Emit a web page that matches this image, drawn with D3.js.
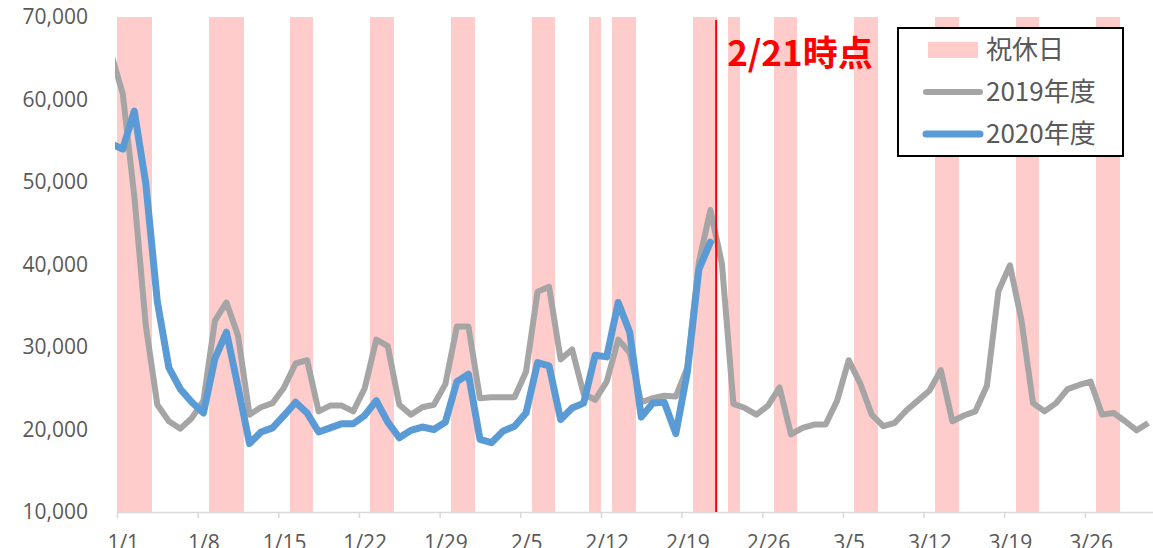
<!DOCTYPE html>
<html>
<head>
<meta charset="utf-8">
<script src="https://cdn.jsdelivr.net/npm/d3@7"></script>
<style>
  body { margin: 0; background: #fff; }
  svg { display: block; font-family: "Noto Sans CJK JP", "Open Sans", sans-serif; }
</style>
</head>
<body>
<svg width="1153" height="548"></svg>
<script>
// daily values, first entry is 12/31 of the previous year
const firstDay = [2020, 11, 31];
const series2019 = [
  65500, 60700, 48300, 32600, 23000, 21000, 20100, 21400, 23500, 33200,
  35400, 31400, 21800, 22700, 23200, 25100, 28000, 28400, 22200, 22900,
  22900, 22200, 25000, 30900, 30100, 23000, 21800, 22700, 23000, 25500,
  32500, 32500, 23800, 23900, 23900, 23900, 27000, 36700, 37300, 28500,
  29700, 24300, 23600, 25800, 30900, 29300, 23300, 23800, 24100, 24000,
  27500, 40300, 46600, 40100, 23100, 22600, 21800, 22900, 25100, 19400,
  20200, 20600, 20600, 23500, 28400, 25600, 21800, 20400, 20800, 22300,
  23500, 24700, 27200, 21000, 21700, 22200, 25300, 36800, 39900, 33200,
  23200, 22200, 23200, 24900, 25400, 25800, 21800, 22000, 21000, 19900,
  20800
];
const series2020 = [
  54600, 54000, 58600, 49800, 35500, 27500, 24900, 23300, 22000, 28600,
  31800, 25200, 18300, 19700, 20200, 21700, 23300, 22000, 19700, 20200,
  20700, 20700, 21700, 23500, 20900, 19000, 19900, 20300, 20000, 20900,
  25800, 26700, 18800, 18400, 19800, 20400, 22000, 28100, 27700, 21200,
  22600, 23200, 29000, 28800, 35400, 31800, 21500, 23200, 23300, 19500,
  27000, 39400, 42700
];
const holidays = [
  "1/1", "1/2", "1/3", "1/9", "1/10", "1/11", "1/16", "1/17", "1/23", "1/24",
  "1/30", "1/31", "2/6", "2/7", "2/11", "2/13", "2/14", "2/20", "2/21", "2/23",
  "2/27", "2/28", "3/6", "3/7", "3/13", "3/14", "3/20", "3/21", "3/27", "3/28"
];
const tickLabels = ["1/1", "1/8", "1/15", "1/22", "1/29", "2/5", "2/12", "2/19", "2/26", "3/5", "3/12", "3/19", "3/26"];
const yTicks = [10000, 20000, 30000, 40000, 50000, 60000, 70000];
const markDate = "2/21";
const markLabel = "2/21時点";
const legendLabels = ["祝休日", "2019年度", "2020年度"];

const colors = {holiday: "#ffcccc", y2019: "#a5a5a5", y2020: "#5b9bd5", mark: "#ff0000", text: "#595959"};

const svg = d3.select("svg");
const year = 2021;
const toDate = s => { const [m, d] = s.split("/").map(Number); return new Date(Date.UTC(year, m - 1, d)); };

const x = d3.scaleUtc()
    .domain([new Date(Date.UTC(year, 0, 1)), new Date(Date.UTC(year, 3, 1))])
    .range([117, 1154]);
const y = d3.scaleLinear().domain([10000, 70000]).range([512, 17]);

const start = new Date(Date.UTC(...firstDay));
const mid = i => d3.utcHour.offset(d3.utcDay.offset(start, i), 12);

// holiday bands
svg.append("g")
    .attr("shape-rendering", "crispEdges")
    .selectAll("rect")
    .data(holidays.map(toDate))
    .join("rect")
    .attr("x", d => x(d))
    .attr("width", d => x(d3.utcDay.offset(d, 1)) - x(d) + 0.5)
    .attr("y", y(70000))
    .attr("height", y(10000) - y(70000))
    .attr("fill", colors.holiday);

// axes
const xAxis = svg.append("g")
    .attr("transform", `translate(0,${y(10000)})`)
    .call(d3.axisBottom(x)
        .tickValues(tickLabels.map(toDate))
        .tickFormat((d, i) => tickLabels[i])
        .tickSize(6)
        .tickSizeOuter(0));
xAxis.select(".domain").attr("stroke", "#d9d9d9").attr("stroke-width", 1.5);
xAxis.selectAll(".tick line").attr("stroke", "#d9d9d9").attr("stroke-width", 1.5);
const halfDay = (x(new Date(Date.UTC(year, 0, 2))) - x(new Date(Date.UTC(year, 0, 1)))) / 2;
xAxis.selectAll("text")
    .attr("dx", halfDay)
    .attr("y", 23)
    .attr("fill", colors.text)
    .style("font-size", "21px")
    .style("font-family", "'Open Sans', sans-serif");

const yAxis = svg.append("g")
    .attr("transform", `translate(117,0)`)
    .call(d3.axisLeft(y).tickValues(yTicks).tickFormat(d3.format(",")).tickSize(0).tickPadding(29));
yAxis.select(".domain").remove();
yAxis.selectAll("text")
    .attr("fill", colors.text)
    .style("font-size", "21px")
    .style("font-family", "'Open Sans', sans-serif");

// lines
svg.append("clipPath").attr("id", "plot")
    .append("rect").attr("x", 115).attr("y", 0).attr("width", 1153 - 115).attr("height", 548);

const line = d3.line().x((d, i) => x(mid(i))).y(d => y(d));

svg.append("path")
    .datum(series2019)
    .attr("clip-path", "url(#plot)")
    .attr("d", line)
    .attr("fill", "none")
    .attr("stroke", colors.y2019)
    .attr("stroke-width", 6)
    .attr("stroke-linejoin", "round");

svg.append("path")
    .datum(series2020)
    .attr("clip-path", "url(#plot)")
    .attr("d", line)
    .attr("fill", "none")
    .attr("stroke", colors.y2020)
    .attr("stroke-width", 7)
    .attr("stroke-linejoin", "round")
    .attr("stroke-linecap", "round");

// 2/21 marker
const markX = x(d3.utcDay.offset(toDate(markDate), 1));
svg.append("line")
    .attr("x1", markX).attr("x2", markX)
    .attr("y1", y(70000) + 3).attr("y2", y(10000))
    .attr("stroke", colors.mark)
    .attr("stroke-width", 2);
svg.append("text")
    .attr("x", markX + 11)
    .attr("y", 66)
    .attr("fill", colors.mark)
    .style("font-size", "35px")
    .style("font-weight", "bold")
    .text(markLabel);

// legend
const legend = svg.append("g").attr("transform", "translate(898,28)");
legend.append("rect")
    .attr("width", 225).attr("height", 128)
    .attr("fill", "#fff")
    .attr("stroke", "#000")
    .attr("stroke-width", 2);
const rows = legend.selectAll(".row")
    .data(legendLabels)
    .join("g")
    .attr("class", "row")
    .attr("transform", (d, i) => `translate(0,${22 + i * 42})`);
rows.filter((d, i) => i === 0).append("rect")
    .attr("x", 30).attr("y", -8).attr("width", 50).attr("height", 16)
    .attr("fill", colors.holiday);
rows.filter((d, i) => i > 0).append("line")
    .attr("x1", 28).attr("x2", 82)
    .attr("stroke", (d, i) => i === 0 ? colors.y2019 : colors.y2020)
    .attr("stroke-width", (d, i) => i === 0 ? 6 : 7)
    .attr("stroke-linecap", "round");
rows.append("text")
    .attr("x", 88)
    .attr("dy", "0.35em")
    .attr("fill", colors.text)
    .style("font-size", "26px")
    .text(d => d);
</script>
</body>
</html>
